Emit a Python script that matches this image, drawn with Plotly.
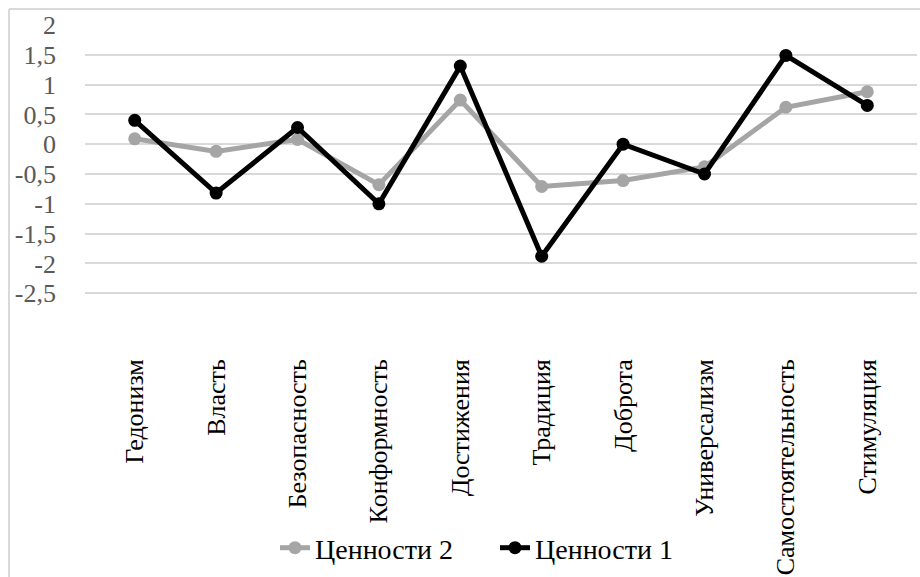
import plotly.graph_objects as go

categories = ["Гедонизм", "Власть", "Безопасность", "Конформность", "Достижения",
              "Традиция", "Доброта", "Универсализм", "Самостоятельность", "Стимуляция"]
values_2 = [0.09, -0.12, 0.08, -0.68, 0.74, -0.71, -0.61, -0.38, 0.62, 0.88]
values_1 = [0.40, -0.82, 0.28, -1.00, 1.31, -1.88, 0.00, -0.50, 1.49, 0.65]
y_ticks = [-2.5, -2, -1.5, -1, -0.5, 0, 0.5, 1, 1.5, 2]
y_tick_text = ["-2,5", "-2", "-1,5", "-1", "-0,5", "0", "0,5", "1", "1,5", "2"]

FONT = "Times New Roman"
FS = 26

fig = go.Figure()
fig.add_trace(go.Scatter(
    x=categories, y=values_2, name="Ценности 2", mode="lines+markers",
    line=dict(color="#A5A5A5", width=5), marker=dict(color="#A5A5A5", size=13),
))
fig.add_trace(go.Scatter(
    x=categories, y=values_1, name="Ценности 1", mode="lines+markers",
    line=dict(color="#000000", width=5), marker=dict(color="#000000", size=13),
))

W, H = 920, 577
L, R, T, B = 85, 3, 25, 254
pw, ph = W - L - R, H - T - B

def px_x(p):
    return (p - L) / pw

def px_y(p):
    return (H - B - p) / ph

# chart frame (left and top edges)
frame = dict(type="line", xref="paper", yref="paper", line=dict(color="#D9D9D9", width=2))
fig.add_shape(**frame, x0=px_x(9), x1=px_x(9), y0=px_y(9), y1=px_y(590))
fig.add_shape(**frame, x0=px_x(9), x1=px_x(930), y0=px_y(9), y1=px_y(9))

fig.update_layout(
    width=W, height=H,
    margin=dict(l=L, r=R, t=T, b=B, autoexpand=False),
    paper_bgcolor="white", plot_bgcolor="white",
    font=dict(family=FONT, size=FS, color="#000000"),
    showlegend=True,
    legend=dict(orientation="h", x=px_x(495), xanchor="center", y=px_y(548), yanchor="middle",
                font=dict(family=FONT, size=28, color="#000000"),
                entrywidth=175, entrywidthmode="pixels",
                bgcolor="rgba(0,0,0,0)"),
)
fig.update_xaxes(
    type="category", tickangle=-90, showgrid=False, zeroline=False, showline=False,
    ticks="", ticklabelstandoff=30,
    tickfont=dict(family=FONT, size=FS, color="#000000"),
)
fig.update_yaxes(
    range=[-3, 2], tickvals=y_ticks, ticktext=y_tick_text,
    showgrid=True, gridcolor="#D9D9D9", gridwidth=2, zeroline=False, showline=False,
    ticks="", ticklabelstandoff=28,
    tickfont=dict(family=FONT, size=FS, color="#595959"),
)

fig.write_html("out.html")
